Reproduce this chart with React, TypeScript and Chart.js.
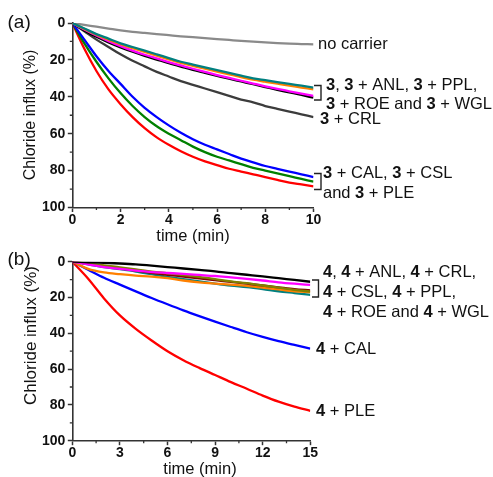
import React, { useEffect, useRef } from 'react';
import { Chart, registerables } from 'chart.js';

Chart.register(...registerables);

// ---------- Panel (a) data ----------
const timeA = [0, 0.5, 1, 1.5, 2, 2.5, 3, 3.5, 4, 4.5, 5, 5.5, 6, 6.5, 7, 7.5, 8, 8.5, 9, 9.5, 10];
const aNoCarrier = [0, 1, 2, 3, 4, 4.8, 5.4, 6, 6.6, 7.2, 7.7, 8.2, 8.7, 9.2, 9.7, 10.1, 10.5, 10.9, 11.2, 11.4, 11.6];
const aPPL = [0, 3, 6, 8.5, 11, 13, 15, 17, 19, 21, 22.5, 24, 25.5, 27, 28.5, 30, 31, 32, 33, 34, 35];
const aANL = [0, 3.2, 6.3, 9, 11.5, 13.7, 15.7, 17.7, 19.7, 21.6, 23.2, 24.8, 26.3, 27.8, 29.3, 30.7, 31.8, 32.9, 34, 35, 36];
const aROE = [0, 3.5, 6.8, 9.8, 12.5, 15, 17.2, 19.2, 21.2, 23, 24.8, 26.5, 28.2, 29.8, 31.3, 32.8, 34.3, 35.7, 37, 38.3, 39.5];
const a3 = [0, 4, 7.5, 10.5, 13.2, 15.6, 17.8, 19.8, 21.8, 23.6, 25.4, 27, 28.6, 30.2, 31.7, 33.2, 34.7, 36.2, 37.6, 39, 40.5];
const aCRL = [0, 4.5, 9, 13, 17, 20.5, 23.5, 26.5, 29, 31.5, 33.5, 35.5, 37.5, 39.5, 41.5, 43, 45, 46.5, 48, 49.5, 51];
const aCAL = [0, 9, 18, 26, 33, 40, 46, 51, 55.5, 59.5, 63, 66, 68.5, 71, 73.5, 75.5, 77.5, 79, 80.5, 82, 83.5];
const aCSL = [0, 11, 21, 30, 38, 45, 51, 56, 60, 63.5, 67, 70, 72.5, 74.5, 76.5, 78.5, 80, 81.5, 83, 84.5, 86];
const aPLE = [0, 14, 26, 36, 44, 51, 57, 62, 66, 69.5, 72.5, 75, 77, 79, 80.5, 82, 83.5, 85, 86.5, 87.5, 88.5];

// ---------- Panel (b) data ----------
const timeB = [0, 1, 2, 3, 4, 5, 6, 7, 8, 9, 10, 11, 12, 13, 14, 15];
const b4 = [0, 0.3, 0.6, 1, 1.5, 2.2, 3, 3.8, 4.6, 5.4, 6.4, 7.3, 8.2, 9.2, 10.2, 11.2];
const bROE = [0, 1.5, 3, 4, 5, 5.8, 6.3, 6.8, 7.4, 8, 8.8, 9.6, 10.5, 11.5, 12.3, 13];
const bWGL = [0, 1, 2, 3.2, 4.3, 5.5, 6.5, 7.5, 8.5, 9.7, 11, 12, 13.3, 14.5, 15.7, 16.7];
const bCRL = [0, 1.2, 2.5, 3.7, 5, 6.2, 7.3, 8.3, 9.3, 10.3, 11.3, 12.3, 13.3, 14.3, 15.3, 16];
const bANL = [0, 4, 6, 7, 7.8, 8.3, 9.2, 10.5, 11.5, 12.2, 12.8, 13.5, 14.5, 15.5, 16.5, 17];
const bPPL = [0, 1.5, 3, 4.2, 5.5, 7, 8.5, 9.8, 11, 12.2, 13.3, 14.2, 15.3, 16.5, 17.5, 18.5];
const bCAL = [0, 4.5, 9, 12.8, 16.6, 20.3, 23.8, 27.2, 30.4, 33.5, 36.5, 39.4, 42, 44.4, 46.5, 48.5];
const bPLE = [0, 9.5, 20.5, 30, 37.5, 44, 50, 55, 59.3, 63.3, 67.3, 71, 74.8, 78.2, 81, 83.3];

// ---------- Texts ----------
const yTitle = 'Chloride influx (%)';
const xTitle = 'time (min)';
const notesA = [
  'no carrier',
  '{3}, {3} + ANL, {3} + PPL,',
  '{3} + ROE and {3} + WGL',
  '{3} + CRL',
  '{3} + CAL, {3} + CSL',
  'and {3} + PLE',
];
const notesB = [
  '{4}, {4} + ANL, {4} + CRL,',
  '{4} + CSL, {4} + PPL,',
  '{4} + ROE and {4} + WGL',
  '{4} + CAL',
  '{4} + PLE',
];

const FONT = '"Liberation Sans", Arial, sans-serif';
const AXIS = '#333333';
const TXT = '#111111';

function drawRich(ctx: CanvasRenderingContext2D, text: string, x: number, y: number, size: number) {
  const parts = text.split(/(\{[^}]*\})/);
  let cx = x;
  for (const p of parts) {
    if (!p) continue;
    const bold = p.startsWith('{');
    const t = bold ? p.slice(1, -1) : p;
    ctx.font = `${bold ? 'bold ' : ''}${size}px ${FONT}`;
    ctx.fillText(t, cx, y);
    cx += ctx.measureText(t).width;
  }
}

function bracket(ctx: CanvasRenderingContext2D, x0: number, x1: number, y0: number, y1: number) {
  ctx.beginPath();
  ctx.moveTo(x0, y0);
  ctx.lineTo(x1, y0);
  ctx.lineTo(x1, y1);
  ctx.lineTo(x0, y1);
  ctx.strokeStyle = '#222';
  ctx.lineWidth = 1.4;
  ctx.stroke();
}

type Overlay = {
  panel: string; panelY: number;
  yTitleX: number; yTitleY: number; yTitleSize: number;
  xTitleX: number; xTitleY: number;
  draw: (ctx: CanvasRenderingContext2D) => void;
};

function overlayPlugin(o: Overlay) {
  return {
    id: 'overlay',
    afterDraw(chart: any) {
      const ctx: CanvasRenderingContext2D = chart.ctx;
      ctx.save();
      // minor ticks (shorter, outward)
      ctx.strokeStyle = AXIS;
      ctx.lineWidth = 1.3;
      const xs = chart.scales.x;
      const ys = chart.scales.y;
      ctx.beginPath();
      for (const t of xs.ticks) {
        if (t.label !== '') continue;
        const px = xs.getPixelForValue(t.value);
        ctx.moveTo(px, xs.top);
        ctx.lineTo(px, xs.top + 2.5);
      }
      for (const t of ys.ticks) {
        if (t.label !== '') continue;
        const py = ys.getPixelForValue(t.value);
        ctx.moveTo(ys.right, py);
        ctx.lineTo(ys.right - 2.5, py);
      }
      ctx.stroke();

      ctx.fillStyle = TXT;
      ctx.textBaseline = 'alphabetic';
      ctx.textAlign = 'left';
      ctx.font = `19px ${FONT}`;
      ctx.fillText(o.panel, 7.5, o.panelY);
      ctx.font = `16.5px ${FONT}`;
      ctx.textAlign = 'center';
      ctx.fillText(xTitle, o.xTitleX, o.xTitleY);
      ctx.save();
      ctx.translate(o.yTitleX, o.yTitleY);
      ctx.rotate(-Math.PI / 2);
      ctx.textBaseline = 'middle';
      ctx.font = `${o.yTitleSize}px ${FONT}`;
      ctx.fillText(yTitle, 0, 0);
      ctx.restore();
      ctx.textAlign = 'left';
      ctx.textBaseline = 'middle';
      o.draw(ctx);
      ctx.restore();
    },
  };
}

function ds(label: string, xs: number[], ys: number[], color: string) {
  return {
    label,
    data: xs.map((x, i) => ({ x, y: ys[i] })),
    borderColor: color,
    backgroundColor: color,
    borderWidth: 2.3,
    pointRadius: 0,
    cubicInterpolationMode: 'monotone' as const,
    fill: false,
  };
}

function makeOptions(xMax: number, xStep: number, xLabelEvery: number, pad: any) {
  const grid = {
    display: true, drawOnChartArea: false, drawTicks: true, tickLength: 4.5, tickWidth: 1.5,
    tickColor: (c: any) => (c.tick && c.tick.label === '' ? 'rgba(0,0,0,0)' : AXIS),
  };
  const border = { display: true, color: AXIS, width: 1.6 };
  const tickFont = { family: FONT, size: 14, weight: 'bold' as const };
  return {
    responsive: false,
    animation: false as const,
    events: [] as any[],
    layout: { padding: pad },
    plugins: { legend: { display: false }, tooltip: { enabled: false } },
    scales: {
      x: {
        type: 'linear' as const,
        min: 0,
        max: xMax,
        grid,
        border,
        afterFit: (s: any) => { s.height = 30; },
        ticks: {
          stepSize: xStep,
          autoSkip: false,
          maxRotation: 0,
          padding: 0,
          color: TXT,
          font: tickFont,
          callback: (v: any) => (Math.abs(v / xLabelEvery - Math.round(v / xLabelEvery)) < 1e-6 ? String(v) : ''),
        },
      },
      y: {
        type: 'linear' as const,
        min: 0,
        max: 100,
        reverse: true,
        grid,
        border,
        afterFit: (s: any) => { s.width = 72.3; },
        ticks: {
          stepSize: 10,
          autoSkip: false,
          padding: 2.5,
          color: TXT,
          font: tickFont,
          callback: (v: any) => (v % 20 === 0 ? String(v) : ''),
        },
      },
    },
  };
}

export default function App() {
  const refA = useRef<HTMLCanvasElement>(null);
  const refB = useRef<HTMLCanvasElement>(null);

  useEffect(() => {
    const size = 16.5;
    const chartA = new Chart(refA.current!, {
      type: 'line',
      data: {
        datasets: [
          ds('3 + PPL', timeA, aPPL, '#008080'),
          ds('3 + ANL', timeA, aANL, '#FF8000'),
          ds('3 + ROE', timeA, aROE, '#FF00FF'),
          ds('3', timeA, a3, '#000000'),
          ds('no carrier', timeA, aNoCarrier, '#8a8a8a'),
          ds('3 + CRL', timeA, aCRL, '#3c3c3c'),
          ds('3 + CAL', timeA, aCAL, '#0000FF'),
          ds('3 + CSL', timeA, aCSL, '#008000'),
          ds('3 + PLE', timeA, aPLE, '#FF0000'),
        ],
      },
      options: makeOptions(10, 1, 2, { left: 0, top: 23, right: 179.5, bottom: 239.5 }) as any,
      plugins: [overlayPlugin({
        panel: '(a)', panelY: 28,
        yTitleX: 30.5, yTitleY: 115, yTitleSize: 16,
        xTitleX: 193, xTitleY: 241,
        draw: (ctx) => {
          drawRich(ctx, notesA[0], 318, 44, size);
          drawRich(ctx, notesA[1], 326, 85, size);
          drawRich(ctx, notesA[2], 326, 104.5, size);
          drawRich(ctx, notesA[3], 320, 119.5, size);
          drawRich(ctx, notesA[4], 323, 173.5, size);
          drawRich(ctx, notesA[5], 323, 193, size);
          bracket(ctx, 314, 321, 85.5, 100);
          bracket(ctx, 314, 321, 173.5, 189.5);
        },
      })],
    });

    const chartB = new Chart(refB.current!, {
      type: 'line',
      data: {
        datasets: [
          ds('4', timeB, b4, '#000000'),
          ds('4 + ROE', timeB, bROE, '#FF00FF'),
          ds('4 + WGL', timeB, bWGL, '#808000'),
          ds('4 + CRL', timeB, bCRL, '#800000'),
          ds('4 + ANL', timeB, bANL, '#FF8000'),
          ds('4 + PPL', timeB, bPPL, '#008080'),
          ds('4 + CAL', timeB, bCAL, '#0000FF'),
          ds('4 + PLE', timeB, bPLE, '#FF0000'),
        ],
      },
      options: makeOptions(15, 1.5, 3, { left: 0, top: 261.7, right: 182.7, bottom: 6.3 }) as any,
      plugins: [overlayPlugin({
        panel: '(b)', panelY: 265,
        yTitleX: 31, yTitleY: 335.5, yTitleSize: 17,
        xTitleX: 200, xTitleY: 473.5,
        draw: (ctx) => {
          drawRich(ctx, notesB[0], 323, 272.5, size);
          drawRich(ctx, notesB[1], 323, 292, size);
          drawRich(ctx, notesB[2], 323, 312, size);
          drawRich(ctx, notesB[3], 316, 349.5, size);
          drawRich(ctx, notesB[4], 316, 411, size);
          bracket(ctx, 312, 318.5, 280, 297);
        },
      })],
    });

    return () => {
      chartA.destroy();
      chartB.destroy();
    };
  }, []);

  const cs: React.CSSProperties = { position: 'absolute', left: 0, top: 0, width: 493, height: 477 };
  return (
    <div style={{ position: 'absolute', left: 0, top: 0, width: 493, height: 477, background: '#fff' }}>
      <canvas ref={refA} width={493} height={477} style={cs} />
      <canvas ref={refB} width={493} height={477} style={cs} />
    </div>
  );
}
